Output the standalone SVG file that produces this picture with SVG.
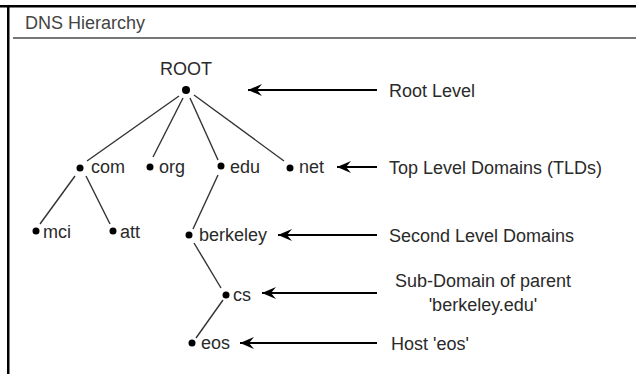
<svg xmlns="http://www.w3.org/2000/svg" width="636" height="374" viewBox="0 0 636 374">
<defs>
<style>
text{font-family:"Liberation Sans",Arial,sans-serif;font-size:18px;fill:#2a2a2a}
.dot{fill:#000}
.edge{stroke:#333;stroke-width:1.4;fill:none}
.arr{stroke:#000;stroke-width:2;fill:none;marker-start:url(#ah)}
</style>
<marker id="ah" viewBox="-1 -7 16 14" markerWidth="16" markerHeight="14" refX="0" refY="0" orient="auto" markerUnits="userSpaceOnUse">
<path d="M0,0 L14,-6 L9,0 L14,6 Z" fill="#000"/>
</marker>
</defs>
<rect width="636" height="374" fill="#fff"/>
<g id="frame">
<rect x="0" y="5" width="636" height="2.5" fill="#000"/>
<rect x="7" y="5" width="2.5" height="369" fill="#000"/>
<rect x="13" y="37" width="623" height="2" fill="#777"/>
<text x="25" y="29" style="fill:#444">DNS Hierarchy</text>
</g>
<g id="connectors">
<line class="edge" x1="179" y1="96" x2="87" y2="161"/>
<line class="edge" x1="183" y1="98" x2="153" y2="157"/>
<line class="edge" x1="190" y1="98" x2="218" y2="160"/>
<line class="edge" x1="194" y1="95" x2="284" y2="161"/>
<line class="edge" x1="75" y1="176" x2="40" y2="224"/>
<line class="edge" x1="86" y1="176" x2="110" y2="224"/>
<line class="edge" x1="218" y1="175" x2="193" y2="229"/>
<line class="edge" x1="194" y1="243" x2="221" y2="288"/>
<line class="edge" x1="223" y1="300" x2="196" y2="338"/>
<line class="arr" x1="248" y1="90" x2="377" y2="90"/>
<line class="arr" x1="337" y1="167" x2="377" y2="167"/>
<line class="arr" x1="278" y1="235" x2="377" y2="235"/>
<line class="arr" x1="262" y1="293" x2="377" y2="293"/>
<line class="arr" x1="240" y1="343" x2="377" y2="343"/>
</g>
<g id="root"><circle class="dot" cx="186" cy="90" r="4"/><text x="186" y="75" text-anchor="middle">ROOT</text></g>
<g id="com"><circle class="dot" cx="80" cy="168" r="3.5"/><text x="91" y="173">com</text></g>
<g id="org"><circle class="dot" cx="150" cy="167" r="3.5"/><text x="159" y="173">org</text></g>
<g id="edu"><circle class="dot" cx="221" cy="166" r="3.5"/><text x="230" y="173">edu</text></g>
<g id="net"><circle class="dot" cx="290" cy="168" r="3.5"/><text x="299" y="173">net</text></g>
<g id="mci"><circle class="dot" cx="36" cy="231" r="3.5"/><text x="43" y="238">mci</text></g>
<g id="att"><circle class="dot" cx="113" cy="231" r="3.5"/><text x="120" y="238">att</text></g>
<g id="berkeley"><circle class="dot" cx="189" cy="235" r="3.5"/><text x="199" y="241">berkeley</text></g>
<g id="cs"><circle class="dot" cx="226" cy="295" r="3.5"/><text x="233" y="301">cs</text></g>
<g id="eos"><circle class="dot" cx="192" cy="343" r="3.5"/><text x="201" y="349">eos</text></g>
<g id="labels">
<text x="389" y="97">Root Level</text>
<text x="389" y="174">Top Level Domains (TLDs)</text>
<text x="389" y="242">Second Level Domains</text>
<text x="483" y="287" text-anchor="middle">Sub-Domain of parent</text>
<text x="483" y="311" text-anchor="middle">'berkeley.edu'</text>
<text x="391" y="350">Host 'eos'</text>
</g>
</svg>
